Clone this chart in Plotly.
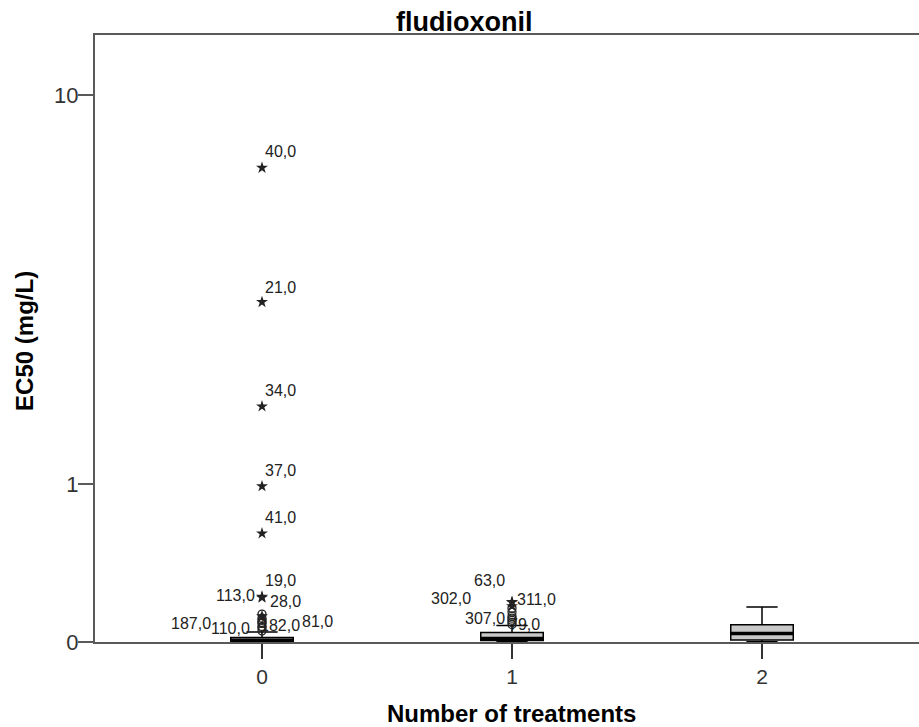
import numpy as np
import plotly.graph_objects as go

# ---------------- data ----------------
groups = [0, 1, 2]
group_labels = ["0", "1", "2"]
q1 = [0.002, 0.007, 0.009]
median = [0.008, 0.016, 0.038]
q3 = [0.020, 0.042, 0.078]
lower_fence = [0.0008, 0.001, 0.001]
upper_fence = [0.045, 0.075, 0.166]

# outliers: group, value, label, kind, anchor, dx, dy (label offset in px)
out_group = [0, 0, 0, 0, 0, 0, 0, 0,
             0, 0, 0, 0, 0, 0, 0, 0,
             1, 1, 1, 1, 1, 1, 1, 1, 1, 1]
out_value = [7.0, 3.44, 1.81, 0.98, 0.61, 0.22, 0.215, 0.12,
             0.07, 0.05, 0.065, 0.085, 0.09, 0.10, 0.11, 0.13,
             0.192, 0.17, 0.19, 0.10, 0.08, 0.09, 0.11, 0.12, 0.14, 0.16]
out_label = ["40,0", "21,0", "34,0", "37,0", "41,0", "19,0", "113,0", "28,0",
             "187,0", "110,0", "182,0", "81,0", "", "", "", "",
             "63,0", "302,0", "311,0", "307,0", "79,0", "", "", "", "", ""]
out_kind = ["star"] * 8 + ["circle"] * 8 + ["star", "star", "star"] + ["circle"] * 7
out_anchor = ["left"] * 6 + ["right", "left", "right", "right", "left", "left", "left", "left", "left", "left",
              "right", "right", "left", "right", "left", "left", "left", "left", "left", "left"]
out_dx = [1, 1, 1, 1, 1, 1, -5, 6, -49, -10, -4, 38, 0, 0, 0, 0,
          -5, -39, 3, -5, -5, 0, 0, 0, 0, 0]
out_dy = [16, 15, 16, 16, 16, 16, 2, 15, 3, 2, 2, 2, 0, 0, 0, 0,
          21, 8, 3, 2, 0, 0, 0, 0, 0, 0]

y_ticks = [0, 1, 10]
y_tick_text = ["0", "1", "10"]


def safelog(v):
    return np.log10(1.0 + np.asarray(v, dtype=float))


BOX_W = 0.25
FONT = "Liberation Sans"

fig = go.Figure()

for i, g in enumerate(groups):
    fig.add_trace(go.Box(
        x=[g], q1=[safelog(q1[i])], median=[safelog(median[i])], q3=[safelog(q3[i])],
        lowerfence=[safelog(lower_fence[i])], upperfence=[safelog(upper_fence[i])],
        width=BOX_W, whiskerwidth=0.5, fillcolor="#c8c8c8",
        line=dict(color="black", width=1.5), boxpoints=False, showlegend=False,
        hoverinfo="skip"))
    # thick median line
    fig.add_trace(go.Scatter(
        x=[g - BOX_W / 2, g + BOX_W / 2], y=[safelog(median[i])] * 2, mode="lines",
        line=dict(color="black", width=3.5), showlegend=False, hoverinfo="skip"))

og = np.array(out_group)
ov = safelog(out_value)
kinds = np.array(out_kind)
for kind, sym, size, lw in [("circle", "circle-open", 8, 1.3), ("star", "star", 9, 0)]:
    m = kinds == kind
    fig.add_trace(go.Scatter(
        x=og[m], y=ov[m], mode="markers",
        marker=dict(symbol=sym, size=size, color="#222222", line=dict(color="#222222", width=lw)),
        showlegend=False, hoverinfo="skip"))

annotations = []
for g, y, lab, anc, dx, dy in zip(out_group, ov, out_label, out_anchor, out_dx, out_dy):
    if not lab:
        continue
    annotations.append(dict(x=g, y=y, xref="x", yref="y", text=lab, showarrow=False,
                            xanchor=anc, yanchor="middle", xshift=dx, yshift=dy,
                            font=dict(family=FONT, size=16, color="#222222")))

annotations += [
    dict(text="<b>fludioxonil</b>", x=0.4478, y=1.0214, xref="paper", yref="paper",
         showarrow=False, xanchor="center", yanchor="middle",
         font=dict(family=FONT, size=27, color="black")),
    dict(text="<b>Number of treatments</b>", x=0.506, y=-0.1186, xref="paper", yref="paper",
         showarrow=False, xanchor="center", yanchor="middle",
         font=dict(family=FONT, size=24, color="black")),
    dict(text="<b>EC50 (mg/L)</b>", x=-0.085, y=0.496, xref="paper", yref="paper",
         showarrow=False, xanchor="center", yanchor="middle", textangle=-90,
         font=dict(family=FONT, size=24, color="black")),
]

fig.update_layout(
    width=919, height=727,
    margin=dict(l=95, r=0, t=35, b=85),
    paper_bgcolor="white", plot_bgcolor="white",
    annotations=annotations,
    xaxis=dict(range=[-0.668, 2.628], tickvals=groups, ticktext=group_labels,
               showgrid=False, zeroline=False, showline=True, linecolor="#5a5a5a",
               linewidth=2, mirror=True, ticks="outside", ticklen=15, tickwidth=2,
               tickcolor="#333333", tickfont=dict(family=FONT, size=21, color="#333333")),
    yaxis=dict(range=[0, 1.156], tickvals=list(safelog(y_ticks)), ticktext=y_tick_text,
               showgrid=False, zeroline=False, showline=True, linecolor="#5a5a5a",
               linewidth=2, ticks="outside", ticklen=15, tickwidth=2, tickcolor="#5a5a5a",
               ticklabelstandoff=-5,
               tickfont=dict(family=FONT, size=22, color="#333333")),
)

fig.write_html("out.html")
